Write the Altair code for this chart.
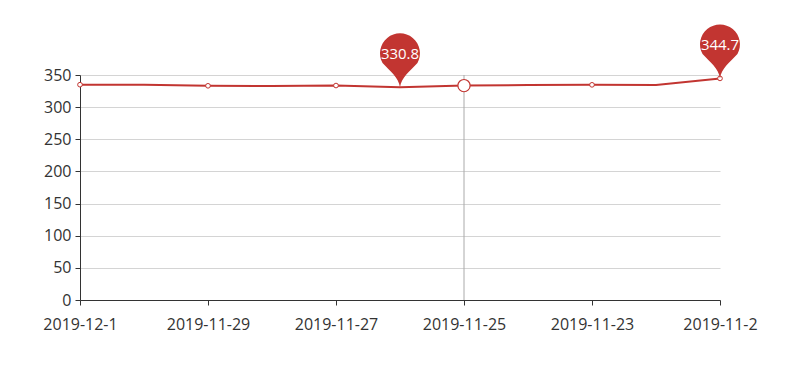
import altair as alt
import pandas as pd

# Daily readings, newest first
dates = [
    "2019-12-1", "2019-11-30", "2019-11-29", "2019-11-28", "2019-11-27",
    "2019-11-26", "2019-11-25", "2019-11-24", "2019-11-23", "2019-11-22",
    "2019-11-2",
]
values = [334.9, 334.8, 333.2, 333.0, 333.6, 330.8, 333.5, 334.5, 334.7, 334.4, 344.7]

y_ticks = [0, 50, 100, 150, 200, 250, 300, 350]
hover_date = "2019-11-25"

RED = "#c23531"
FONT = "Open Sans"

df = pd.DataFrame({"date": dates, "value": values})
shown = df.iloc[::2]                                  # symbols every other point
extremes = df.loc[[df["value"].idxmin(), df["value"].idxmax()]]
hover = df[df["date"] == hover_date]

x_scale = alt.Scale(type="point", domain=dates, padding=0)

x = alt.X(
    "date:N",
    sort=None,
    scale=x_scale,
    axis=alt.Axis(
        title=None, values=dates[::2], labelAngle=0, grid=False,
        domainColor="#333", tickColor="#333", tickSize=5,
        labelColor="#333", labelFontSize=16, labelFont=FONT, labelPadding=11,
        labelOverlap=False,
    ),
)
y = alt.Y(
    "value:Q",
    scale=alt.Scale(domain=[0, 350], nice=False, zero=True),
    axis=alt.Axis(
        title=None, values=y_ticks, grid=True, gridColor="#d4d4d4",
        domainColor="#333", tickColor="#333", tickSize=5,
        labelColor="#333", labelFontSize=16, labelFont=FONT, labelPadding=4,
    ),
)

line = alt.Chart(df).mark_line(color=RED, strokeWidth=2).encode(x=x, y=y)

crosshair = alt.Chart(hover).mark_rule(color="#aaa", strokeWidth=1).encode(
    x=alt.X("date:N", sort=None, scale=x_scale),
    y=alt.value(0),
    y2=alt.value(225),
)

dots = alt.Chart(shown).mark_point(
    shape="circle", filled=True, fill="white", stroke=RED, strokeWidth=1,
    size=22, opacity=1,
).encode(x=x, y=y)

hover_dot = alt.Chart(hover).mark_point(
    shape="circle", filled=True, fill="white", stroke=RED, strokeWidth=1.2,
    size=150, opacity=1,
).encode(x=x, y=y)

# Balloon pin: tip at (0, 1), round head above it
PIN = ("M0,1 C0.05,0.62 0.36,0.42 0.6465,0.1 "
       "A0.74,0.74 0 1 0 -0.6465,0.1 "
       "C-0.36,0.42 -0.05,0.62 0,1 Z")

pins = alt.Chart(extremes).mark_point(
    shape=PIN, filled=True, color=RED, opacity=1, size=2916, yOffset=-27,
).encode(x=x, y=y)

pin_text = alt.Chart(extremes).mark_text(
    color="white", fontSize=15, font=FONT, dy=-33, baseline="middle", align="center",
).encode(x=x, y=y, text=alt.Text("value:Q", format=".1f"))

chart = alt.layer(line, crosshair, dots, hover_dot, pins, pin_text).properties(
    width=640,
    height=225,
    autosize=alt.AutoSizeParams(type="none"),
    padding={"left": 80, "top": 75, "right": 80, "bottom": 75},
    background="white",
).configure_view(stroke=None)

chart.save("out.html", embed_options={"renderer": "svg", "actions": False})
